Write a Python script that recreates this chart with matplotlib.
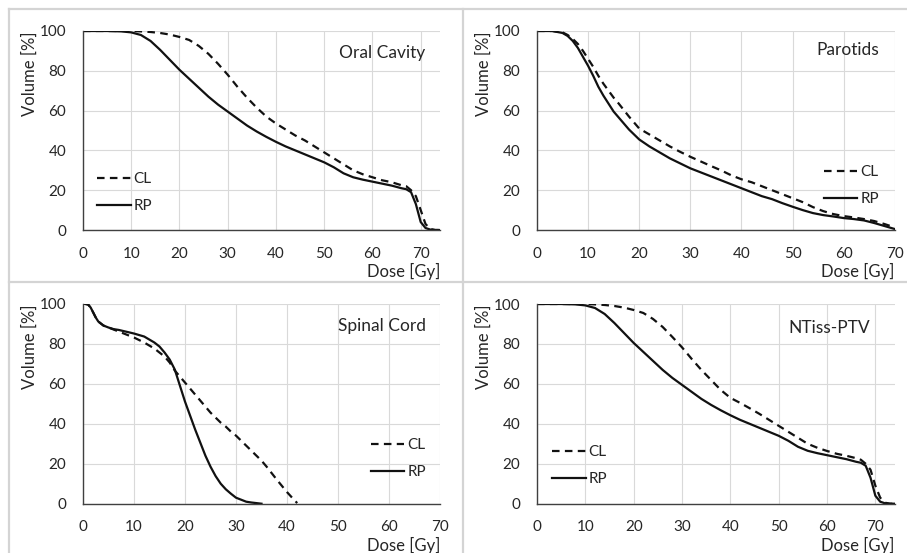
import matplotlib
matplotlib.use("Agg")
import matplotlib.pyplot as plt
from matplotlib.lines import Line2D

plt.rcParams['font.family'] = ['Lato', 'DejaVu Sans']

# ---------------- data ----------------
oc_dose = [0, 5, 8, 10, 12, 14, 16, 18, 20, 22, 24, 26, 28, 30, 32, 34, 36, 38, 40, 42, 44, 46, 48,
           50, 52, 54, 56, 58, 60, 62, 64, 66, 67, 68, 69, 70, 71, 72, 73, 74]
oc_cl = [100, 100, 100, 100, 99.8, 99.5, 99, 98.2, 97, 95.5, 92.5, 88.5, 83.5, 78, 72, 66.5, 61.5, 57,
         53.5, 50.5, 47.5, 45, 42, 39, 36, 33, 30, 28, 26.5, 25, 24, 22.5, 22, 20, 17, 10, 3, 0.5, 0, 0]
oc_rp = [100, 100, 99.8, 99.3, 98, 95, 90.5, 85.5, 80.5, 76, 71.5, 67, 63, 59.5, 56, 52.5, 49.5, 46.8,
         44.3, 42, 40, 38, 36, 34, 31.5, 28.5, 26.5, 25.3, 24.3, 23.3, 22.3, 21, 20.5, 19, 13, 4, 1, 0.2, 0, 0]

par_dose = [0, 3, 5, 6, 7, 8, 9, 10, 11, 12, 13, 14, 15, 16, 18, 20, 22, 24, 26, 28, 30, 32, 34, 36, 38,
            40, 42, 44, 46, 48, 50, 52, 54, 56, 58, 60, 62, 64, 66, 68, 70]
par_cl = [100, 100, 99.3, 98, 96, 93.5, 90, 86, 82, 77.5, 73.5, 70, 66.5, 63.5, 57, 51, 48, 45, 42, 39.3,
          36.8, 34.5, 32.2, 30, 27.5, 25.5, 24, 22, 20, 18, 16, 14, 11.5, 9.5, 8, 7, 6.3, 5.5, 4.5, 3, 1.3]
par_rp = [100, 100, 99, 97.5, 95, 91.5, 87, 82.5, 77.5, 72, 67.5, 63.5, 59.5, 56.5, 50.5, 45.5, 42, 39,
          36, 33.5, 31, 29, 27, 25, 23, 21, 19, 17, 15.5, 13.5, 11.7, 10, 8.5, 7.5, 6.8, 6, 5.5, 4.8, 3.5, 2, 0.5]

sc_dose_cl = [0, 1, 1.5, 2, 2.5, 3, 4, 5, 6, 7, 8, 10, 12, 14, 15, 16, 17, 18, 19, 20, 21, 22, 23, 24,
              25, 26, 27, 28, 29, 30, 31, 32, 33, 34, 35, 36, 38, 40, 41, 42]
sc_cl = [100, 99.5, 98, 95.5, 93, 91, 89, 88, 87, 86, 85, 83, 80.5, 77.5, 75.5, 73.5, 70.5, 66.5, 63.5,
         60.5, 57.5, 54.5, 51.5, 48.5, 45.5, 43, 40.5, 38.5, 36, 34, 31.5, 29, 26.5, 24, 21.5, 18.5, 12,
         5.8, 3, 0.3]
sc_dose_rp = [0, 1, 1.5, 2, 2.5, 3, 4, 5, 6, 7, 8, 10, 12, 14, 15, 16, 17, 18, 19, 20, 21, 22, 23, 24,
              25, 26, 27, 28, 29, 30, 31, 32, 33, 34, 35]
sc_rp = [100, 99.5, 98, 95.5, 93, 91, 89, 88, 87.2, 86.8, 86.2, 85, 83.5, 80.5, 78.5, 75.5, 72, 67, 59,
         51, 44, 37, 30.5, 24, 18.5, 13.8, 10, 7.2, 5, 3, 2, 1, 0.6, 0.3, 0]

nt_dose = oc_dose
nt_cl = [100, 100, 100, 100, 99.8, 99.5, 99, 98.2, 97, 95.5, 92.5, 88.5, 83.5, 78.3, 72.5, 67, 62,
         57, 53, 50.5, 47.8, 45, 42, 39, 36, 33, 30, 28, 26.4, 25, 24, 22.8, 22, 20, 17, 9, 3, 0.5, 0, 0]
nt_rp = oc_rp

titles = ["Oral Cavity", "Parotids", "Spinal Cord", "NTiss-PTV"]
x_ticks = [0, 10, 20, 30, 40, 50, 60, 70]
y_ticks = [0, 20, 40, 60, 80, 100]

# ---------------- figure ----------------
W, H = 907, 553
fig = plt.figure(figsize=(W / 100, H / 100), dpi=100)
fig.patch.set_facecolor('white')


def fx(px):
    return px / W


def fy(py):
    return 1 - py / H


# panel borders
border_col = '#d4d4d4'
for (x0, y0, x1, y1) in [(9, 9, 9, 560), (463, 9, 463, 560), (9, 9, 910, 9), (9, 282, 910, 282)]:
    fig.add_artist(Line2D([fx(x0), fx(x1)], [fy(y0), fy(y1)], color=border_col, lw=1.6))

# axes rects in pixels: left, right, top, bottom
rects = [(83, 440, 31, 230), (537, 894.7, 31, 230), (83, 440, 303.5, 503.7), (537, 894.7, 304, 503.7)]
xmaxs = [74, 70, 70, 74]
title_pos = [(0.958, 0.889), (0.956, 0.905), (0.961, 0.888), (0.931, 0.88)]
leg_pos = [('center left', 0.039, 0.188), ('center right', 0.956, 0.224),
           ('center right', 0.961, 0.226), ('center left', 0.042, 0.189)]

series = [
    (oc_dose, oc_cl, oc_dose, oc_rp),
    (par_dose, par_cl, par_dose, par_rp),
    (sc_dose_cl, sc_cl, sc_dose_rp, sc_rp),
    (nt_dose, nt_cl, nt_dose, nt_rp),
]

txt_col = '#262626'
line_col = '#111111'

for i in range(4):
    l, r, t, b = rects[i]
    ax = fig.add_axes([fx(l), fy(b), (r - l) / W, (b - t) / H])
    dcl, vcl, drp, vrp = series[i]
    ax.plot(dcl, vcl, color=line_col, lw=1.6, dashes=(3.4, 2.4), label='CL', solid_capstyle='butt')
    ax.plot(drp, vrp, color=line_col, lw=1.6, label='RP')
    ax.set_xlim(0, xmaxs[i])
    ax.set_ylim(0, 100)
    ax.set_xticks(x_ticks)
    ax.set_yticks(y_ticks)
    ax.grid(True, color='#d9d9d9', lw=0.8)
    ax.set_axisbelow(True)
    for s in ['top', 'right']:
        ax.spines[s].set_visible(False)
    for s in ['left', 'bottom']:
        ax.spines[s].set_color('#404040')
        ax.spines[s].set_linewidth(1.0)
    ax.tick_params(axis='both', length=0, labelsize=11, colors=txt_col)
    ax.tick_params(axis='x', pad=12)
    ax.tick_params(axis='y', pad=12)
    ax.text(-0.148, 0.784, "Volume [%]", transform=ax.transAxes, rotation=90,
            ha='center', va='center', fontsize=12, color=txt_col)
    ax.text(1.0, -0.211, "Dose [Gy]", transform=ax.transAxes, ha='right', va='center',
            fontsize=12, color=txt_col)
    tx, ty = title_pos[i]
    ax.text(tx, ty, titles[i], transform=ax.transAxes, ha='right', va='center',
            fontsize=12.5, color=txt_col)
    loc, lx, ly = leg_pos[i]
    ax.legend(loc=loc, bbox_to_anchor=(lx, ly), frameon=False, fontsize=11,
              handlelength=2.2, handletextpad=0.2, labelspacing=0.85, borderpad=0,
              borderaxespad=0, labelcolor=txt_col)

fig.savefig('out.png', dpi=100, facecolor='white')
